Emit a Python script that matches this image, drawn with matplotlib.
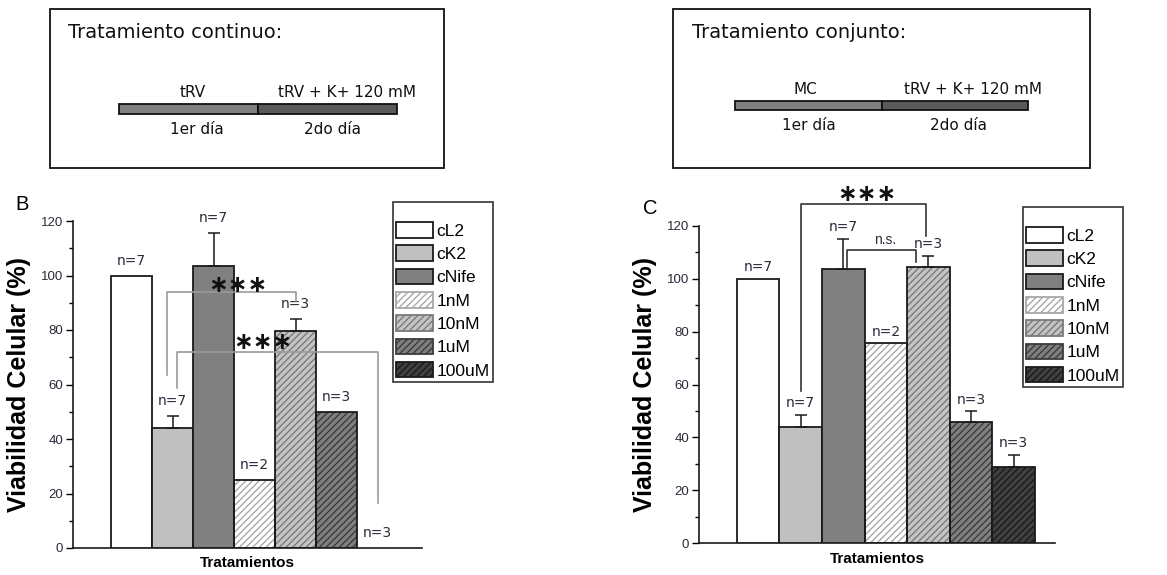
import matplotlib
matplotlib.use("Agg")
import matplotlib.pyplot as plt
from matplotlib.patches import Rectangle, Patch
from matplotlib.ticker import MultipleLocator
import numpy as np

# ---------------- data ----------------
categories = ['cL2', 'cK2', 'cNife', '1nM', '10nM', '1uM', '100uM']
cont_vals = [100, 44, 103.5, 25, 79.5, 50, 0]
cont_err = [0, 4.5, 12, 0, 4.5, 0, 0]
cont_n = ['n=7', 'n=7', 'n=7', 'n=2', 'n=3', 'n=3', 'n=3']
conj_vals = [100, 44, 103.5, 75.5, 104.5, 46, 29]
conj_err = [0, 4.5, 11.5, 0, 4, 3.8, 4.5]
conj_n = ['n=7', 'n=7', 'n=7', 'n=2', 'n=3', 'n=3', 'n=3']

face_colors = ['#ffffff', '#c0c0c0', '#808080', '#ffffff', '#c4c4c4', '#808080', '#404040']
hatch_colors = [None, None, None, '#a8a8a8', '#7a7a7a', '#3c3c3c', '#1a1a1a']

SANS = ['Liberation Sans', 'DejaVu Sans']
plt.rcParams['font.family'] = SANS
plt.rcParams['hatch.linewidth'] = 1.0

fig = plt.figure(figsize=(11.67, 5.75), dpi=100)
W, H = 1167, 575


def px_axes(x0, y0, x1, y1):
    return fig.add_axes([x0 / W, 1 - y1 / H, (x1 - x0) / W, (y1 - y0) / H])


def draw_bars(ax, vals, errs):
    x = np.arange(len(vals))
    for i, (v, fc, hc) in enumerate(zip(vals, face_colors, hatch_colors)):
        if v <= 0:
            continue
        if hc is not None:
            ax.bar(x[i], v, width=1.0, color=fc, edgecolor=hc, hatch='/////',
                   linewidth=0, zorder=2)
            ax.bar(x[i], v, width=1.0, facecolor='none', edgecolor='#1a1a1a',
                   linewidth=1.3, zorder=3)
        else:
            ax.bar(x[i], v, width=1.0, color=fc, edgecolor='#1a1a1a',
                   linewidth=1.3, zorder=3)
    vals = np.asarray(vals, float)
    errs = np.asarray(errs, float)
    m = errs > 0
    ax.errorbar(x[m], vals[m], yerr=[np.zeros(m.sum()), errs[m]], fmt='none',
                ecolor='#1a1a1a', elinewidth=1.1, capsize=4, capthick=1.1,
                zorder=4)


def style_axes(ax, xlim):
    ax.set_xlim(*xlim)
    ax.set_ylim(0, 120)
    ax.spines['top'].set_visible(False)
    ax.spines['right'].set_visible(False)
    for s in ('left', 'bottom'):
        ax.spines[s].set_linewidth(1.2)
        ax.spines[s].set_color('#1a1a1a')
    ax.set_xticks([])
    ax.yaxis.set_major_locator(MultipleLocator(20))
    ax.yaxis.set_minor_locator(MultipleLocator(10))
    ax.tick_params(axis='y', which='major', length=5, width=1.0,
                   labelsize=9.5, labelcolor='#2a2a3a', pad=2)
    ax.tick_params(axis='y', which='minor', length=3, width=1.0)
    ax.set_ylabel('Viabilidad Celular (%)', fontsize=18, fontweight='bold',
                  labelpad=7)
    ax.set_xlabel('Tratamientos', fontsize=11, fontweight='bold', labelpad=6)


def n_labels(ax, vals, errs, labels, off):
    for i, (v, e, t) in enumerate(zip(vals, errs, labels)):
        ax.text(i, v + e + off, t, ha='center', va='center', fontsize=10,
                family=['DejaVu Sans'], color='#2a2a3a')


def bracket(ax, x0, y0, x1, y1, ytop, color):
    ax.plot([x0, x0, x1, x1], [y0, ytop, ytop, y1], color=color, lw=1.2,
            clip_on=False, zorder=5)


def add_legend(ax, bbox):
    handles = []
    for fc, hc in zip(face_colors, hatch_colors):
        if hc is None:
            handles.append(Patch(facecolor=fc, edgecolor='#1a1a1a', linewidth=1.3))
        else:
            handles.append(Patch(facecolor=fc, edgecolor=hc, hatch='/////',
                                 linewidth=1.3))
    leg = ax.legend(handles, categories, loc='upper left', bbox_to_anchor=bbox,
                    bbox_transform=fig.transFigure, fontsize=12.5, frameon=True,
                    fancybox=False, edgecolor='#333333', framealpha=1,
                    handlelength=2.1, handleheight=1.0, handletextpad=0.2,
                    labelspacing=0.38, borderpad=0.2, borderaxespad=0,
                    title=' ', title_fontsize=7)
    leg.get_frame().set_linewidth(1.2)
    return leg


STAR = dict(ha='center', va='center', fontsize=17, fontweight='bold',
            family=['DejaVu Sans'], color='#111111', zorder=6)

# ---------------- panel B ----------------
axB = px_axes(73, 221, 422, 548)
draw_bars(axB, cont_vals, cont_err)
style_axes(axB, (-1.43, 7.08))
n_labels(axB, cont_vals, cont_err, cont_n, 5.5)
bracket(axB, 0.85, 63.5, 4.0, 90.5, 94, '#9a9a9a')
bracket(axB, 1.1, 58.7, 6.0, 16.5, 72, '#9a9a9a')
axB.text(2.6, 96.5, '∗∗∗', **STAR)
axB.text(3.2, 75.5, '∗∗∗', **STAR)
add_legend(axB, (393 / W, 1 - 202 / H))
fig.text(22 / W, 1 - 205 / H, 'B', fontsize=14.5, ha='center', va='center')

# ---------------- panel C ----------------
axC = px_axes(699, 225.7, 1055, 543.3)
draw_bars(axC, conj_vals, conj_err)
style_axes(axC, (-1.385, 6.97))
n_labels(axC, conj_vals, conj_err, conj_n, 4.5)
bracket(axC, 1.0, 57.4, 3.95, 116, 128.2, '#333333')
bracket(axC, 2.1, 104.5, 3.7, 106.3, 110.7, '#333333')
axC.text(2.56, 132, '∗∗∗', **STAR)
axC.text(2.98, 114.5, 'n.s.', ha='center', va='center', fontsize=10,
         color='#2a2a3a')
add_legend(axC, (1023 / W, 1 - 207 / H))
fig.text(650 / W, 1 - 208 / H, 'C', fontsize=14.5, ha='center', va='center')

# ---------------- schematic boxes ----------------
ov = fig.add_axes([0, 0, 1, 1], zorder=-1)
ov.set_xlim(0, W)
ov.set_ylim(H, 0)
ov.axis('off')

SCH = ['DejaVu Sans']


def schematic(x0, x1, title, tx, bar_x0, bar_split, bar_x1, bar_y0, bar_y1,
              lab1, lab1x, lab2x, laby, dayy):
    ov.add_patch(Rectangle((x0, 9), x1 - x0, 159, fill=False, lw=1.3,
                           edgecolor='#111111'))
    ov.text(tx, 33, title, fontsize=14, family=SCH, ha='left', va='center',
            color='#111111')
    ov.add_patch(Rectangle((bar_x0, bar_y0), bar_split - bar_x0, bar_y1 - bar_y0,
                           facecolor='#7f7f7f', edgecolor='#111111', lw=1.3))
    ov.add_patch(Rectangle((bar_split, bar_y0), bar_x1 - bar_split, bar_y1 - bar_y0,
                           facecolor='#5a5a5a', edgecolor='#111111', lw=1.3))
    ov.text(lab1x, laby, lab1, fontsize=11, family=SCH, ha='center',
            va='bottom', color='#111111')
    ov.text(lab2x, laby, 'tRV + K+ 120 mM', fontsize=11, family=SCH,
            ha='center', va='bottom', color='#111111')
    ov.text(lab1x + 4, dayy, '1er día', fontsize=11, family=SCH, ha='center',
            va='center', color='#111111')
    ov.text(lab2x - 15, dayy, '2do día', fontsize=11, family=SCH,
            ha='center', va='center', color='#111111')


schematic(50, 444, 'Tratamiento continuo:', 68, 119, 258, 397, 104, 114,
          'tRV', 193, 347, 100, 130)
schematic(673, 1090, 'Tratamiento conjunto:', 692, 735, 882, 1028, 101, 110,
          'MC', 805, 973, 97, 125)

fig.savefig('out.png', dpi=100)
